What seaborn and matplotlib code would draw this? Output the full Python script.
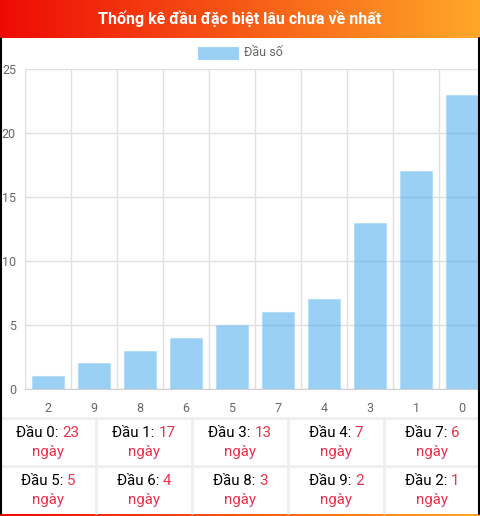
import numpy as np
import pandas as pd
import seaborn as sns
import matplotlib.pyplot as plt
from matplotlib.lines import Line2D
from matplotlib.patches import Rectangle

# data
heads = ['2', '9', '8', '6', '5', '7', '4', '3', '1', '0']
days = [1, 2, 3, 4, 5, 6, 7, 13, 17, 23]
title = 'Thống kê đầu đặc biệt lâu chưa về nhất'
legend_label = 'Đầu số'
# table below the chart (longest first)
table_heads = ['0', '1', '3', '4', '7', '5', '6', '8', '9', '2']
table_days = [23, 17, 13, 7, 6, 5, 4, 3, 2, 1]

W, H = 480, 516
sns.set_style('white')
plt.rcParams['font.family'] = ['Roboto', 'DejaVu Sans']

fig = plt.figure(figsize=(W / 100, H / 100), dpi=100)


def fx(px):
    return px / W


def fy(py):
    return 1 - py / H


bar_face = (0.21, 0.635, 0.92, 0.5)
bar_edge = (0.62, 0.83, 0.97)

# header gradient
hax = fig.add_axes([0, fy(38), 1, 38 / H])
c0 = np.array([238, 10, 4]) / 255
c1 = np.array([255, 168, 40]) / 255
t = np.linspace(0, 1, 256)
grad = (c0[None, :] * (1 - t[:, None]) + c1[None, :] * t[:, None])[None, :, :]
hax.imshow(grad, aspect='auto', extent=[0, 1, 0, 1])
hax.set_axis_off()
hax.text(0.5, 0.5, title, color='white', fontsize=11.5, fontweight='bold',
         ha='center', va='center', transform=hax.transAxes)

# bar chart
ax = fig.add_axes([fx(25), fy(389), 460 / W, 320 / H])
df = pd.DataFrame({'head': heads, 'days': days})
sns.barplot(data=df, x='head', y='days', order=heads, ax=ax, width=0.7,
            color=bar_face[:3], saturation=1, alpha=0.5, edgecolor=bar_edge,
            linewidth=0.8)
ax.set_xlim(-0.5, len(heads) - 0.5)
ax.set_ylim(0, 25)
ax.set_yticks(range(0, 26, 5))
ax.set_xlabel('')
ax.set_ylabel('')
ax.set_axisbelow(True)
ax.set_xticks(np.arange(-0.5, len(heads), 1), minor=True)
ax.grid(True, which='minor', axis='x', color='#e0e0e0', linewidth=1)
ax.grid(True, which='major', axis='y', color='#e0e0e0', linewidth=1)
ax.tick_params(axis='x', which='major', length=0, pad=9, labelsize=9, labelcolor='#666666')
ax.tick_params(axis='x', which='minor', length=6, color='#e0e0e0', width=1)
ax.tick_params(axis='y', length=5, color='#e0e0e0', width=1, pad=1.5,
               labelsize=9, labelcolor='#666666')
for s in ['top', 'right']:
    ax.spines[s].set_visible(False)
ax.spines['left'].set_color('#e0e0e0')
ax.spines['bottom'].set_color('#d0d0d0')

# legend
fig.patches.append(Rectangle((fx(198), fy(59)), 40 / W, 12 / H, transform=fig.transFigure,
                             facecolor=bar_face, edgecolor=bar_edge, linewidth=0.8))
fig.text(fx(244), fy(53), legend_label, color='#666666', fontsize=9, va='center', ha='left')

# table
line_c = '#eeeeee'
for xp in [96, 192, 288, 384]:
    fig.add_artist(Line2D([fx(xp), fx(xp)], [fy(418), fy(513)], color=line_c, linewidth=2))
for yp in [418, 466]:
    fig.add_artist(Line2D([0, 1], [fy(yp), fy(yp)], color=line_c, linewidth=2))

red = '#e8334a'
fig.canvas.draw()
renderer = fig.canvas.get_renderer()
for i, (h, d) in enumerate(zip(table_heads, table_days)):
    row, col = divmod(i, 5)
    cx = 48 + 96 * col
    y1 = 433 + 48 * row
    y2 = 452 + 48 * row
    a = fig.text(0, fy(y1), f'Đầu {h}: ', color='black', fontsize=10.8, va='center', ha='left')
    b = fig.text(0, fy(y1), str(d), color=red, fontsize=10.8, va='center', ha='left')
    wa = a.get_window_extent(renderer).width
    wb = b.get_window_extent(renderer).width
    left = cx - (wa + wb) / 2
    a.set_x(fx(left))
    b.set_x(fx(left + wa))
    fig.text(fx(cx), fy(y2), 'ngày', color=red, fontsize=10.8, va='center', ha='center')

# outer borders
fig.add_artist(Line2D([fx(0.75), fx(0.75)], [fy(38), fy(514)], color='black', linewidth=1.5))
fig.add_artist(Line2D([fx(479), fx(479)], [fy(38), fy(514)], color='black', linewidth=1.5))
bax = fig.add_axes([0, 0, 1, 2 / H])
bax.imshow(grad, aspect='auto', extent=[0, 1, 0, 1])
bax.set_axis_off()

fig.savefig('out.png', dpi=100)
